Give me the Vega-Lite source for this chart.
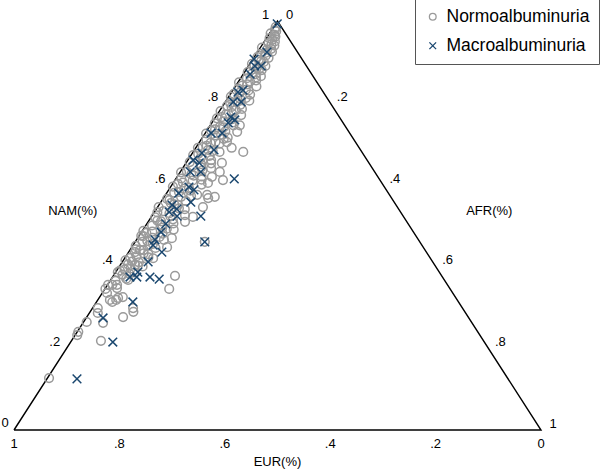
{
"$schema":"https://vega.github.io/schema/vega-lite/v6.json",
"width":527,"height":409,
"autosize":{"type":"none"},
"padding":{"left":14,"top":21,"right":59,"bottom":42},
"background":"white",
"config":{"view":{"stroke":null},"font":"Liberation Sans","text":{"font":"Liberation Sans","fontSize":13,"color":"black"}},
"datasets":{
"frame":[{"v":0,"nam":0,"afr":0},{"v":1,"nam":1,"afr":0},{"v":2,"nam":0,"afr":1},{"v":3,"nam":0,"afr":0}],
"bottom":[{"label":"1","nam":0,"afr":0},{"label":".8","nam":0,"afr":0.2},{"label":".6","nam":0,"afr":0.4},{"label":".4","nam":0,"afr":0.6},{"label":".2","nam":0,"afr":0.8},{"label":"0","nam":0,"afr":1}],
"left":[{"label":".2","nam":0.2,"afr":0},{"label":".4","nam":0.4,"afr":0},{"label":".6","nam":0.6,"afr":0},{"label":".8","nam":0.8,"afr":0},{"label":"1","nam":1,"afr":0}],
"right":[{"label":"0","nam":1,"afr":0},{"label":".2","nam":0.8,"afr":0.2},{"label":".4","nam":0.6,"afr":0.4},{"label":".6","nam":0.4,"afr":0.6},{"label":".8","nam":0.2,"afr":0.8},{"label":"1","nam":0,"afr":1}],
"pts":[
{"g":"Normoalbuminuria","nam":0.985,"afr":0.004},{"g":"Normoalbuminuria","nam":0.975,"afr":0.010},{"g":"Normoalbuminuria","nam":0.970,"afr":0.002},{"g":"Normoalbuminuria","nam":0.962,"afr":0.015},{"g":"Normoalbuminuria","nam":0.958,"afr":0.006},{"g":"Normoalbuminuria","nam":0.950,"afr":0.020},{"g":"Normoalbuminuria","nam":0.946,"afr":0.010},{"g":"Normoalbuminuria","nam":0.940,"afr":0.024},{"g":"Normoalbuminuria","nam":0.935,"afr":0.003},{"g":"Normoalbuminuria","nam":0.930,"afr":0.015},{"g":"Normoalbuminuria","nam":0.925,"afr":0.027},{"g":"Normoalbuminuria","nam":0.920,"afr":0.008},{"g":"Normoalbuminuria","nam":0.915,"afr":0.020},{"g":"Normoalbuminuria","nam":0.910,"afr":0.028},{"g":"Normoalbuminuria","nam":0.905,"afr":0.012},{"g":"Normoalbuminuria","nam":0.900,"afr":0.024},{"g":"Normoalbuminuria","nam":0.895,"afr":0.004},{"g":"Normoalbuminuria","nam":0.890,"afr":0.032},{"g":"Normoalbuminuria","nam":0.885,"afr":0.018},{"g":"Normoalbuminuria","nam":0.880,"afr":0.030},{"g":"Normoalbuminuria","nam":0.875,"afr":0.006},{"g":"Normoalbuminuria","nam":0.870,"afr":0.024},{"g":"Normoalbuminuria","nam":0.865,"afr":0.036},{"g":"Normoalbuminuria","nam":0.860,"afr":0.012},{"g":"Normoalbuminuria","nam":0.855,"afr":0.032},{"g":"Normoalbuminuria","nam":0.850,"afr":0.002},{"g":"Normoalbuminuria","nam":0.845,"afr":0.020},{"g":"Normoalbuminuria","nam":0.840,"afr":0.040},{"g":"Normoalbuminuria","nam":0.835,"afr":0.008},{"g":"Normoalbuminuria","nam":0.830,"afr":0.030},{"g":"Normoalbuminuria","nam":0.825,"afr":0.016},{"g":"Normoalbuminuria","nam":0.820,"afr":0.038},{"g":"Normoalbuminuria","nam":0.815,"afr":0.004},{"g":"Normoalbuminuria","nam":0.810,"afr":0.024},{"g":"Normoalbuminuria","nam":0.805,"afr":0.044},{"g":"Normoalbuminuria","nam":0.800,"afr":0.010},{"g":"Normoalbuminuria","nam":0.795,"afr":0.032},{"g":"Normoalbuminuria","nam":0.790,"afr":0.018},{"g":"Normoalbuminuria","nam":0.785,"afr":0.040},{"g":"Normoalbuminuria","nam":0.780,"afr":0.002},{"g":"Normoalbuminuria","nam":0.775,"afr":0.026},{"g":"Normoalbuminuria","nam":0.770,"afr":0.046},{"g":"Normoalbuminuria","nam":0.765,"afr":0.012},{"g":"Normoalbuminuria","nam":0.760,"afr":0.034},{"g":"Normoalbuminuria","nam":0.755,"afr":0.020},{"g":"Normoalbuminuria","nam":0.750,"afr":0.006},{"g":"Normoalbuminuria","nam":0.745,"afr":0.044},{"g":"Normoalbuminuria","nam":0.740,"afr":0.028},{"g":"Normoalbuminuria","nam":0.735,"afr":0.014},{"g":"Normoalbuminuria","nam":0.730,"afr":0.036},{"g":"Normoalbuminuria","nam":0.725,"afr":0.002},{"g":"Normoalbuminuria","nam":0.720,"afr":0.022},{"g":"Normoalbuminuria","nam":0.715,"afr":0.048},{"g":"Normoalbuminuria","nam":0.710,"afr":0.010},{"g":"Normoalbuminuria","nam":0.705,"afr":0.030},{"g":"Normoalbuminuria","nam":0.700,"afr":0.040},{"g":"Normoalbuminuria","nam":0.695,"afr":0.018},{"g":"Normoalbuminuria","nam":0.690,"afr":0.004},{"g":"Normoalbuminuria","nam":0.685,"afr":0.026},{"g":"Normoalbuminuria","nam":0.680,"afr":0.050},{"g":"Normoalbuminuria","nam":0.675,"afr":0.012},{"g":"Normoalbuminuria","nam":0.670,"afr":0.036},{"g":"Normoalbuminuria","nam":0.665,"afr":0.022},{"g":"Normoalbuminuria","nam":0.660,"afr":0.044},{"g":"Normoalbuminuria","nam":0.655,"afr":0.006},{"g":"Normoalbuminuria","nam":0.650,"afr":0.030},{"g":"Normoalbuminuria","nam":0.645,"afr":0.016},{"g":"Normoalbuminuria","nam":0.640,"afr":0.054},{"g":"Normoalbuminuria","nam":0.635,"afr":0.040},{"g":"Normoalbuminuria","nam":0.630,"afr":0.002},{"g":"Normoalbuminuria","nam":0.625,"afr":0.024},{"g":"Normoalbuminuria","nam":0.620,"afr":0.046},{"g":"Normoalbuminuria","nam":0.615,"afr":0.010},{"g":"Normoalbuminuria","nam":0.610,"afr":0.034},{"g":"Normoalbuminuria","nam":0.605,"afr":0.018},{"g":"Normoalbuminuria","nam":0.600,"afr":0.056},{"g":"Normoalbuminuria","nam":0.595,"afr":0.004},{"g":"Normoalbuminuria","nam":0.590,"afr":0.028},{"g":"Normoalbuminuria","nam":0.585,"afr":0.042},{"g":"Normoalbuminuria","nam":0.580,"afr":0.014},{"g":"Normoalbuminuria","nam":0.575,"afr":0.060},{"g":"Normoalbuminuria","nam":0.570,"afr":0.032},{"g":"Normoalbuminuria","nam":0.565,"afr":0.008},{"g":"Normoalbuminuria","nam":0.560,"afr":0.046},{"g":"Normoalbuminuria","nam":0.555,"afr":0.020},{"g":"Normoalbuminuria","nam":0.550,"afr":0.036},{"g":"Normoalbuminuria","nam":0.545,"afr":0.002},{"g":"Normoalbuminuria","nam":0.540,"afr":0.054},{"g":"Normoalbuminuria","nam":0.535,"afr":0.016},{"g":"Normoalbuminuria","nam":0.530,"afr":0.030},{"g":"Normoalbuminuria","nam":0.525,"afr":0.062},{"g":"Normoalbuminuria","nam":0.520,"afr":0.008},{"g":"Normoalbuminuria","nam":0.515,"afr":0.044},{"g":"Normoalbuminuria","nam":0.510,"afr":0.024},{"g":"Normoalbuminuria","nam":0.505,"afr":0.050},{"g":"Normoalbuminuria","nam":0.500,"afr":0.012},{"g":"Normoalbuminuria","nam":0.495,"afr":0.034},{"g":"Normoalbuminuria","nam":0.490,"afr":0.058},{"g":"Normoalbuminuria","nam":0.485,"afr":0.020},{"g":"Normoalbuminuria","nam":0.480,"afr":0.042},{"g":"Normoalbuminuria","nam":0.475,"afr":0.004},{"g":"Normoalbuminuria","nam":0.470,"afr":0.028},{"g":"Normoalbuminuria","nam":0.465,"afr":0.052},{"g":"Normoalbuminuria","nam":0.460,"afr":0.014},{"g":"Normoalbuminuria","nam":0.455,"afr":0.036},{"g":"Normoalbuminuria","nam":0.450,"afr":0.006},{"g":"Normoalbuminuria","nam":0.445,"afr":0.046},{"g":"Normoalbuminuria","nam":0.440,"afr":0.026},{"g":"Normoalbuminuria","nam":0.435,"afr":0.012},{"g":"Normoalbuminuria","nam":0.430,"afr":0.040},{"g":"Normoalbuminuria","nam":0.425,"afr":0.020},{"g":"Normoalbuminuria","nam":0.420,"afr":0.054},{"g":"Normoalbuminuria","nam":0.415,"afr":0.004},{"g":"Normoalbuminuria","nam":0.410,"afr":0.032},{"g":"Normoalbuminuria","nam":0.405,"afr":0.014},{"g":"Normoalbuminuria","nam":0.400,"afr":0.044},{"g":"Normoalbuminuria","nam":0.395,"afr":0.024},{"g":"Normoalbuminuria","nam":0.390,"afr":0.006},{"g":"Normoalbuminuria","nam":0.385,"afr":0.036},{"g":"Normoalbuminuria","nam":0.380,"afr":0.016},{"g":"Normoalbuminuria","nam":0.370,"afr":0.028},{"g":"Normoalbuminuria","nam":0.365,"afr":0.010},
{"g":"Normoalbuminuria","nam":0.978,"afr":0.006},{"g":"Normoalbuminuria","nam":0.966,"afr":0.011},{"g":"Normoalbuminuria","nam":0.954,"afr":0.013},{"g":"Normoalbuminuria","nam":0.943,"afr":0.017},{"g":"Normoalbuminuria","nam":0.932,"afr":0.022},{"g":"Normoalbuminuria","nam":0.922,"afr":0.016},{"g":"Normoalbuminuria","nam":0.912,"afr":0.006},{"g":"Normoalbuminuria","nam":0.902,"afr":0.018},{"g":"Normoalbuminuria","nam":0.892,"afr":0.010},{"g":"Normoalbuminuria","nam":0.882,"afr":0.024},{"g":"Normoalbuminuria","nam":0.872,"afr":0.016},{"g":"Normoalbuminuria","nam":0.862,"afr":0.028},{"g":"Normoalbuminuria","nam":0.852,"afr":0.022},{"g":"Normoalbuminuria","nam":0.842,"afr":0.012},{"g":"Normoalbuminuria","nam":0.832,"afr":0.024},{"g":"Normoalbuminuria","nam":0.822,"afr":0.006},{"g":"Normoalbuminuria","nam":0.812,"afr":0.034},{"g":"Normoalbuminuria","nam":0.802,"afr":0.022},{"g":"Normoalbuminuria","nam":0.792,"afr":0.008},{"g":"Normoalbuminuria","nam":0.782,"afr":0.030},{"g":"Normoalbuminuria","nam":0.772,"afr":0.016},{"g":"Normoalbuminuria","nam":0.762,"afr":0.004},{"g":"Normoalbuminuria","nam":0.752,"afr":0.040},{"g":"Normoalbuminuria","nam":0.742,"afr":0.020},{"g":"Normoalbuminuria","nam":0.732,"afr":0.008},{"g":"Normoalbuminuria","nam":0.722,"afr":0.032},{"g":"Normoalbuminuria","nam":0.712,"afr":0.042},{"g":"Normoalbuminuria","nam":0.702,"afr":0.022},{"g":"Normoalbuminuria","nam":0.692,"afr":0.012},{"g":"Normoalbuminuria","nam":0.682,"afr":0.036},{"g":"Normoalbuminuria","nam":0.672,"afr":0.004},{"g":"Normoalbuminuria","nam":0.662,"afr":0.028},{"g":"Normoalbuminuria","nam":0.652,"afr":0.048},{"g":"Normoalbuminuria","nam":0.642,"afr":0.034},{"g":"Normoalbuminuria","nam":0.632,"afr":0.012},{"g":"Normoalbuminuria","nam":0.622,"afr":0.030},{"g":"Normoalbuminuria","nam":0.612,"afr":0.050},{"g":"Normoalbuminuria","nam":0.602,"afr":0.010},{"g":"Normoalbuminuria","nam":0.592,"afr":0.036},{"g":"Normoalbuminuria","nam":0.582,"afr":0.022},{"g":"Normoalbuminuria","nam":0.572,"afr":0.050},{"g":"Normoalbuminuria","nam":0.562,"afr":0.014},{"g":"Normoalbuminuria","nam":0.552,"afr":0.028},{"g":"Normoalbuminuria","nam":0.542,"afr":0.042},{"g":"Normoalbuminuria","nam":0.532,"afr":0.006},{"g":"Normoalbuminuria","nam":0.522,"afr":0.036},{"g":"Normoalbuminuria","nam":0.512,"afr":0.016},{"g":"Normoalbuminuria","nam":0.502,"afr":0.030},{"g":"Normoalbuminuria","nam":0.492,"afr":0.044},{"g":"Normoalbuminuria","nam":0.482,"afr":0.010},{"g":"Normoalbuminuria","nam":0.472,"afr":0.040},{"g":"Normoalbuminuria","nam":0.462,"afr":0.022},{"g":"Normoalbuminuria","nam":0.452,"afr":0.030},{"g":"Normoalbuminuria","nam":0.442,"afr":0.010},{"g":"Normoalbuminuria","nam":0.432,"afr":0.030},{"g":"Normoalbuminuria","nam":0.422,"afr":0.044},{"g":"Normoalbuminuria","nam":0.412,"afr":0.018},{"g":"Normoalbuminuria","nam":0.402,"afr":0.034},{"g":"Normoalbuminuria","nam":0.392,"afr":0.014},{"g":"Normoalbuminuria","nam":0.382,"afr":0.028},
{"g":"Normoalbuminuria","nam":0.729,"afr":0.059},{"g":"Normoalbuminuria","nam":0.680,"afr":0.095},{"g":"Normoalbuminuria","nam":0.704,"afr":0.052},{"g":"Normoalbuminuria","nam":0.653,"afr":0.068},{"g":"Normoalbuminuria","nam":0.631,"afr":0.075},{"g":"Normoalbuminuria","nam":0.611,"afr":0.091},{"g":"Normoalbuminuria","nam":0.604,"afr":0.066},{"g":"Normoalbuminuria","nam":0.619,"afr":0.066},{"g":"Normoalbuminuria","nam":0.575,"afr":0.079},{"g":"Normoalbuminuria","nam":0.570,"afr":0.096},{"g":"Normoalbuminuria","nam":0.567,"afr":0.085},{"g":"Normoalbuminuria","nam":0.690,"afr":0.068},{"g":"Normoalbuminuria","nam":0.745,"afr":0.056},
{"g":"Normoalbuminuria","nam":0.460,"afr":0.132},{"g":"Normoalbuminuria","nam":0.377,"afr":0.117},{"g":"Normoalbuminuria","nam":0.345,"afr":0.122},{"g":"Normoalbuminuria","nam":0.487,"afr":0.002},{"g":"Normoalbuminuria","nam":0.474,"afr":0.008},{"g":"Normoalbuminuria","nam":0.440,"afr":0.019},{"g":"Normoalbuminuria","nam":0.421,"afr":0.010},{"g":"Normoalbuminuria","nam":0.403,"afr":0.028},{"g":"Normoalbuminuria","nam":0.386,"afr":0.004},{"g":"Normoalbuminuria","nam":0.355,"afr":0.009},{"g":"Normoalbuminuria","nam":0.347,"afr":0.022},{"g":"Normoalbuminuria","nam":0.325,"afr":0.044},{"g":"Normoalbuminuria","nam":0.318,"afr":0.035},{"g":"Normoalbuminuria","nam":0.318,"afr":0.023},{"g":"Normoalbuminuria","nam":0.345,"afr":0.001},{"g":"Normoalbuminuria","nam":0.298,"afr":0.010},{"g":"Normoalbuminuria","nam":0.298,"afr":0.077},{"g":"Normoalbuminuria","nam":0.469,"afr":0.065},{"g":"Normoalbuminuria","nam":0.447,"afr":0.067},{"g":"Normoalbuminuria","nam":0.509,"afr":0.070},{"g":"Normoalbuminuria","nam":0.521,"afr":0.079},{"g":"Normoalbuminuria","nam":0.545,"afr":0.086},
{"g":"Normoalbuminuria","nam":0.355,"afr":0.001},{"g":"Normoalbuminuria","nam":0.355,"afr":0.018},{"g":"Normoalbuminuria","nam":0.335,"afr":0.009},{"g":"Normoalbuminuria","nam":0.313,"afr":0.030},{"g":"Normoalbuminuria","nam":0.323,"afr":0.036},{"g":"Normoalbuminuria","nam":0.286,"afr":0.016},{"g":"Normoalbuminuria","nam":0.262,"afr":0.038},{"g":"Normoalbuminuria","nam":0.276,"afr":0.069},{"g":"Normoalbuminuria","nam":0.289,"afr":0.082},{"g":"Normoalbuminuria","nam":0.264,"afr":0.006},{"g":"Normoalbuminuria","nam":0.240,"afr":0.002},{"g":"Normoalbuminuria","nam":0.232,"afr":0.004},{"g":"Normoalbuminuria","nam":0.218,"afr":0.056},{"g":"Normoalbuminuria","nam":0.127,"afr":0.003},{"g":"Normoalbuminuria","nam":0.367,"afr":0.033},
{"g":"Macroalbuminuria","nam":0.993,"afr":0.003},{"g":"Macroalbuminuria","nam":0.924,"afr":0.018},{"g":"Macroalbuminuria","nam":0.907,"afr":0.002},{"g":"Macroalbuminuria","nam":0.890,"afr":0.024},{"g":"Macroalbuminuria","nam":0.890,"afr":0.012},{"g":"Macroalbuminuria","nam":0.870,"afr":0.013},{"g":"Macroalbuminuria","nam":0.826,"afr":0.012},{"g":"Macroalbuminuria","nam":0.831,"afr":0.019},{"g":"Macroalbuminuria","nam":0.802,"afr":0.015},{"g":"Macroalbuminuria","nam":0.802,"afr":0.030},{"g":"Macroalbuminuria","nam":0.765,"afr":0.029},{"g":"Macroalbuminuria","nam":0.758,"afr":0.040},{"g":"Macroalbuminuria","nam":0.751,"afr":0.031},{"g":"Macroalbuminuria","nam":0.726,"afr":0.011},{"g":"Macroalbuminuria","nam":0.726,"afr":0.032},{"g":"Macroalbuminuria","nam":0.677,"afr":0.018},{"g":"Macroalbuminuria","nam":0.685,"afr":0.037},{"g":"Macroalbuminuria","nam":0.660,"afr":0.010},{"g":"Macroalbuminuria","nam":0.653,"afr":0.025},{"g":"Macroalbuminuria","nam":0.631,"afr":0.019},{"g":"Macroalbuminuria","nam":0.631,"afr":0.039},{"g":"Macroalbuminuria","nam":0.614,"afr":0.111},{"g":"Macroalbuminuria","nam":0.594,"afr":0.035},{"g":"Macroalbuminuria","nam":0.587,"afr":0.048},{"g":"Macroalbuminuria","nam":0.579,"afr":0.023},{"g":"Macroalbuminuria","nam":0.557,"afr":0.057},{"g":"Macroalbuminuria","nam":0.550,"afr":0.025},{"g":"Macroalbuminuria","nam":0.540,"afr":0.039},{"g":"Macroalbuminuria","nam":0.533,"afr":0.028},{"g":"Macroalbuminuria","nam":0.523,"afr":0.093},{"g":"Macroalbuminuria","nam":0.523,"afr":0.048},{"g":"Macroalbuminuria","nam":0.504,"afr":0.036},{"g":"Macroalbuminuria","nam":0.484,"afr":0.037},{"g":"Macroalbuminuria","nam":0.465,"afr":0.035},{"g":"Macroalbuminuria","nam":0.452,"afr":0.038},{"g":"Macroalbuminuria","nam":0.435,"afr":0.063},{"g":"Macroalbuminuria","nam":0.411,"afr":0.049},{"g":"Macroalbuminuria","nam":0.386,"afr":0.042},{"g":"Macroalbuminuria","nam":0.374,"afr":0.033},{"g":"Macroalbuminuria","nam":0.374,"afr":0.046},{"g":"Macroalbuminuria","nam":0.374,"afr":0.071},{"g":"Macroalbuminuria","nam":0.369,"afr":0.091},{"g":"Macroalbuminuria","nam":0.460,"afr":0.132},{"g":"Macroalbuminuria","nam":0.313,"afr":0.069},{"g":"Macroalbuminuria","nam":0.274,"afr":0.032},{"g":"Macroalbuminuria","nam":0.215,"afr":0.080},{"g":"Macroalbuminuria","nam":0.125,"afr":0.057}
]
},
"layer":[
{"data":{"name":"frame"},"transform":[{"calculate":"datum.afr + datum.nam/2","as":"px"}],
 "mark":{"type":"line","color":"black","strokeWidth":1.4},
 "encoding":{"x":{"field":"px","type":"quantitative","scale":{"domain":[0,1],"nice":false,"zero":false},"axis":null},
 "y":{"field":"nam","type":"quantitative","scale":{"domain":[0,1],"nice":false,"zero":false},"axis":null},
 "order":{"field":"v","type":"quantitative"}}},
{"data":{"name":"pts"},"transform":[{"calculate":"datum.afr + datum.nam/2","as":"px"}],
 "mark":{"type":"point","filled":false,"strokeWidth":1.5,"size":75,"opacity":1},
 "encoding":{"x":{"field":"px","type":"quantitative"},"y":{"field":"nam","type":"quantitative"},
 "color":{"field":"g","type":"nominal","scale":{"domain":["Normoalbuminuria","Macroalbuminuria"],"range":["#9a9a9a","#1a476f"]},
   "legend":{"title":null,"orient":"none","legendX":401,"legendY":-22,"direction":"vertical","strokeColor":"#555555","fillColor":"white","padding":9,"symbolSize":45,"symbolStrokeWidth":1.3,"labelFontSize":17.5,"labelFont":"Liberation Sans","labelOffset":5,"rowPadding":10,"labelColor":"black"}},
 "shape":{"field":"g","type":"nominal","scale":{"domain":["Normoalbuminuria","Macroalbuminuria"],"range":["circle","M-1,-1L1,1M1,-1L-1,1"]}}}},
{"data":{"name":"bottom"},"transform":[{"calculate":"datum.afr + datum.nam/2","as":"px"}],
 "mark":{"type":"text","dy":14,"align":"center","baseline":"middle"},
 "encoding":{"x":{"field":"px","type":"quantitative"},"y":{"field":"nam","type":"quantitative"},"text":{"field":"label"}}},
{"data":{"name":"left"},"transform":[{"calculate":"datum.afr + datum.nam/2","as":"px"}],
 "mark":{"type":"text","dx":-12,"dy":-6,"align":"center","baseline":"middle"},
 "encoding":{"x":{"field":"px","type":"quantitative"},"y":{"field":"nam","type":"quantitative"},"text":{"field":"label"}}},
{"data":{"values":[{"label":"0","nam":0,"afr":0}]},"transform":[{"calculate":"datum.afr + datum.nam/2","as":"px"}],
 "mark":{"type":"text","dx":-9,"dy":-7,"align":"center","baseline":"middle"},
 "encoding":{"x":{"field":"px","type":"quantitative"},"y":{"field":"nam","type":"quantitative"},"text":{"field":"label"}}},
{"data":{"name":"right"},"transform":[{"calculate":"datum.afr + datum.nam/2","as":"px"}],
 "mark":{"type":"text","dx":12,"dy":-6,"align":"center","baseline":"middle"},
 "encoding":{"x":{"field":"px","type":"quantitative"},"y":{"field":"nam","type":"quantitative"},"text":{"field":"label"}}},
{"data":{"values":[{"label":"NAM(%)","nam":0.5,"afr":0}]},"transform":[{"calculate":"datum.afr + datum.nam/2","as":"px"}],
 "mark":{"type":"text","dx":-73,"dy":-15,"align":"center","baseline":"middle"},
 "encoding":{"x":{"field":"px","type":"quantitative"},"y":{"field":"nam","type":"quantitative"},"text":{"field":"label"}}},
{"data":{"values":[{"label":"AFR(%)","nam":0.5,"afr":0.5}]},"transform":[{"calculate":"datum.afr + datum.nam/2","as":"px"}],
 "mark":{"type":"text","dx":80,"dy":-15,"align":"center","baseline":"middle"},
 "encoding":{"x":{"field":"px","type":"quantitative"},"y":{"field":"nam","type":"quantitative"},"text":{"field":"label"}}},
{"data":{"values":[{"label":"EUR(%)","nam":0,"afr":0.5}]},"transform":[{"calculate":"datum.afr + datum.nam/2","as":"px"}],
 "mark":{"type":"text","dy":32,"align":"center","baseline":"middle"},
 "encoding":{"x":{"field":"px","type":"quantitative"},"y":{"field":"nam","type":"quantitative"},"text":{"field":"label"}}}
]
}
